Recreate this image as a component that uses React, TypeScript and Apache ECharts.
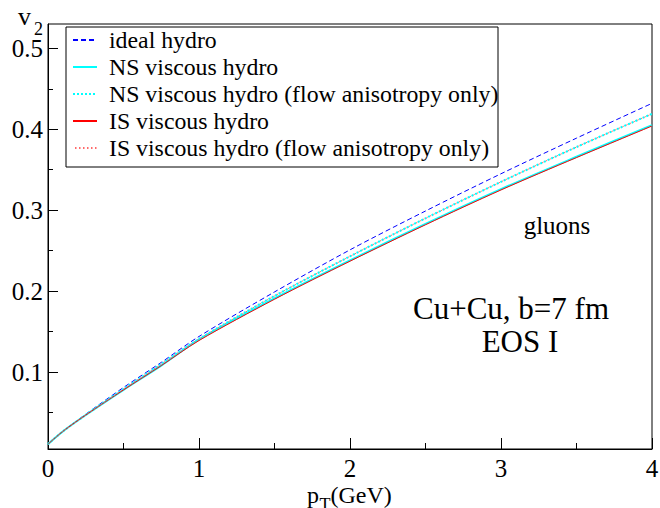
import React, { useEffect, useRef } from "react";
import * as echarts from "echarts";

const pT = [0, 0.1, 0.25, 0.5, 0.75, 1, 1.5, 2, 2.5, 3, 3.5, 4];
const idealHydro = [0.011, 0.027, 0.048, 0.081, 0.112, 0.144, 0.199, 0.251, 0.299, 0.345, 0.389, 0.432];
const nsViscous = [0.011, 0.027, 0.047, 0.078, 0.108, 0.140, 0.191, 0.238, 0.283, 0.326, 0.366, 0.405];
const nsFlowOnly = [0.011, 0.027, 0.047, 0.079, 0.110, 0.141, 0.194, 0.243, 0.290, 0.335, 0.378, 0.419];
const isViscous = [0.011, 0.027, 0.047, 0.078, 0.108, 0.139, 0.190, 0.237, 0.282, 0.325, 0.365, 0.404];
const isFlowOnly = [0.011, 0.027, 0.047, 0.079, 0.110, 0.141, 0.194, 0.243, 0.290, 0.335, 0.378, 0.419];

const seriesNames = [
  "ideal hydro",
  "NS viscous hydro",
  "NS viscous hydro (flow anisotropy only)",
  "IS viscous hydro",
  "IS viscous hydro (flow anisotropy only)",
];
const yTickLabels = [0.1, 0.2, 0.3, 0.4, 0.5];
const yMinorTicks = [0.05, 0.15, 0.25, 0.35, 0.45];

const FONT = "Liberation Serif, Times New Roman, serif";

function pairs(ys: number[]) {
  return pT.map((x, i) => [x, ys[i]]);
}

export default function App() {
  const ref = useRef<HTMLDivElement>(null);
  useEffect(() => {
    document.body.style.margin = "0";
    const chart = echarts.init(ref.current!, null, { renderer: "svg" });
    const mk = (name: string, ys: number[], color: string, width: number, type: any, dashOffset = 0) => ({
      name,
      type: "line",
      data: pairs(ys),
      smooth: 0.3,
      symbol: "none",
      lineStyle: { color, width, type, dashOffset },
      itemStyle: { color },
    });
    chart.setOption({
      animation: false,
      backgroundColor: "#fff",
      textStyle: { fontFamily: FONT },
      grid: { left: 48, right: 8, top: 24, bottom: 59, show: true, borderColor: "#000", borderWidth: 1, outerBoundsMode: "none" },
      xAxis: {
        type: "value",
        min: 0,
        max: 4,
        interval: 1,
        axisLine: { lineStyle: { color: "#000", width: 1 } },
        axisTick: { inside: true, length: 11, lineStyle: { color: "#000" } },
        minorTick: { show: true, splitNumber: 2, length: 6, lineStyle: { color: "#000" } },
        splitLine: { show: false },
        axisLabel: { fontFamily: FONT, fontSize: 25, color: "#000", margin: 7 },
      },
      yAxis: [
        {
          type: "value",
          min: 0.005,
          max: 0.53,
          axisLine: { lineStyle: { color: "#000", width: 1 } },
          axisTick: { inside: true, length: 10, customValues: yTickLabels, lineStyle: { color: "#000" } },
          axisLabel: { fontFamily: FONT, fontSize: 25, color: "#000", margin: 5, customValues: yTickLabels, formatter: (v: number) => v.toFixed(1) },
          splitLine: { show: false },
        },
        {
          type: "value",
          min: 0.005,
          max: 0.53,
          position: "left",
          axisLine: { show: false },
          axisTick: { inside: true, length: 5, customValues: yMinorTicks, lineStyle: { color: "#000" } },
          axisLabel: { show: false },
          splitLine: { show: false },
        },
      ],
      legend: {
        orient: "vertical",
        left: 72,
        top: 28,
        padding: 0,
        itemGap: 3,
        itemWidth: 24,
        itemHeight: 14,
        selectedMode: false,
        data: seriesNames,
        itemStyle: { opacity: 0, borderWidth: 0 },
        textStyle: { fontFamily: FONT, fontSize: 23.8, color: "#000", lineHeight: 23, padding: [0, 0, 0, 7] },
      },
      series: [
        mk(seriesNames[0], idealHydro, "#0000ff", 1, [5, 3]),
        mk(seriesNames[1], nsViscous, "#00ffff", 2, "solid"),
        mk(seriesNames[2], nsFlowOnly, "#00ffff", 2, [2, 2]),
        mk(seriesNames[3], isViscous, "#ff0000", 1, "solid"),
        mk(seriesNames[4], isFlowOnly, "#ff6a6a", 1, [1.5, 2.5], 2),
      ],
      graphic: [
        { type: "rect", shape: { x: 66, y: 27, width: 432, height: 140 }, style: { fill: "none", stroke: "#000", lineWidth: 1 }, z: 100 },
        { type: "text", x: 18, y: 16, style: { text: "v", font: `26px ${FONT}`, fill: "#000", verticalAlign: "middle" } },
        { type: "text", x: 34, y: 29, style: { text: "2", font: `18px ${FONT}`, fill: "#000", verticalAlign: "middle" } },
        { type: "text", x: 307, y: 495, style: { text: "p", font: `24px ${FONT}`, fill: "#000", verticalAlign: "middle" } },
        { type: "text", x: 319.5, y: 505, style: { text: "T", font: `18px ${FONT}`, fill: "#000", verticalAlign: "middle" } },
        { type: "text", x: 330.5, y: 495, style: { text: "(GeV)", font: `24px ${FONT}`, fill: "#000", verticalAlign: "middle" } },
        { type: "text", x: 557, y: 225, style: { text: "gluons", font: `25px ${FONT}`, fill: "#000", align: "center", verticalAlign: "middle" } },
        { type: "text", x: 511, y: 308, style: { text: "Cu+Cu, b=7 fm", font: `31px ${FONT}`, fill: "#000", align: "center", verticalAlign: "middle" } },
        { type: "text", x: 520, y: 341, style: { text: "EOS I", font: `31px ${FONT}`, fill: "#000", align: "center", verticalAlign: "middle" } },
      ],
    });
    return () => chart.dispose();
  }, []);
  return <div ref={ref} style={{ position: "fixed", left: 0, top: 0, width: 660, height: 508 }} />;
}
